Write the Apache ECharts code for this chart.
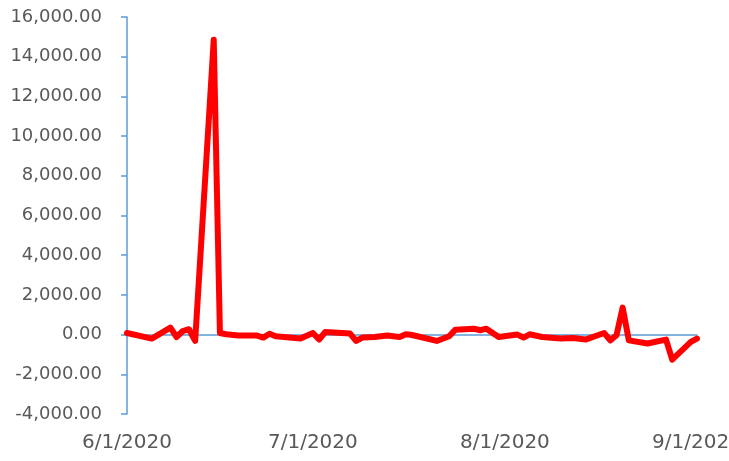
<!DOCTYPE html>
<html>
<head>
<meta charset="utf-8">
<script src="https://cdn.jsdelivr.net/npm/echarts@6/dist/echarts.min.js"></script>
<style>
html,body{margin:0;padding:0;background:#fff;}
#chart{width:729px;height:461px;}
</style>
</head>
<body>
<div id="chart"></div>
<script>
var dates = [
  '2020-06-01','2020-06-05','2020-06-08','2020-06-09','2020-06-10','2020-06-11','2020-06-12',
  '2020-06-15','2020-06-16','2020-06-17','2020-06-19','2020-06-22','2020-06-23','2020-06-24',
  '2020-06-25','2020-06-29','2020-07-01','2020-07-02','2020-07-03','2020-07-07','2020-07-08',
  '2020-07-09','2020-07-11','2020-07-13','2020-07-15','2020-07-16','2020-07-17','2020-07-21',
  '2020-07-23','2020-07-24','2020-07-27','2020-07-28','2020-07-29','2020-07-31','2020-08-03',
  '2020-08-04','2020-08-05','2020-08-07','2020-08-10','2020-08-12','2020-08-14','2020-08-17',
  '2020-08-18','2020-08-19','2020-08-20','2020-08-21','2020-08-24','2020-08-27','2020-08-28',
  '2020-08-31','2020-09-01'
];
var values = [
  80,-200,350,-120,180,270,-320,
  14850,80,15,-50,-50,-150,40,
  -85,-200,80,-250,130,50,-320,
  -150,-120,-50,-120,15,-20,-320,
  -85,250,300,220,300,-120,0,
  -150,15,-120,-200,-170,-250,80,
  -290,-35,1360,-290,-450,-250,-1260,
  -370,-200
];
var xTickLabels = ['2020-06-01','2020-07-01','2020-08-01','2020-09-01'];
var yMin = -4000, yMax = 16000, yStep = 2000;

function ts(s){ var p = s.split('-'); return Date.UTC(+p[0], +p[1]-1, +p[2]); }
var seriesData = dates.map(function(d,i){ return [ts(d), values[i]]; });
var xTicks = xTickLabels.map(ts);
var xMin = xTicks[0], xMax = xTicks[xTicks.length-1];

var labelColor = '#595959';
var axisBlue = '#5B9BD5';
var fontFam = 'DejaVu Sans';

var chart = echarts.init(document.getElementById('chart'));
chart.setOption({
  animation: false,
  grid: {left: 127, right: 32, top: 17, bottom: 47, containLabel: false, outerBoundsMode: 'none'},
  xAxis: [{
    type: 'value', min: xMin, max: xMax, position: 'bottom',
    axisLine: {show: false, onZero: false},
    axisTick: {show: false},
    splitLine: {show: false},
    axisLabel: {
      customValues: xTicks, margin: 19, color: labelColor,
      fontFamily: fontFam, fontSize: 20, hideOverlap: false,
      formatter: function(v){ var d = new Date(v); return (d.getUTCMonth()+1)+'/'+d.getUTCDate()+'/'+d.getUTCFullYear(); }
    }
  },{
    type: 'value', min: xMin, max: xMax, position: 'bottom',
    axisLine: {show: true, onZero: true, lineStyle: {color: axisBlue, width: 1.5}},
    axisTick: {show: false},
    axisLabel: {show: false},
    splitLine: {show: false}
  }],
  yAxis: {
    type: 'value', min: yMin, max: yMax, interval: yStep,
    axisLine: {show: true, lineStyle: {color: axisBlue, width: 1.5}},
    axisTick: {show: true, length: 6, lineStyle: {color: axisBlue, width: 1.5}},
    splitLine: {show: false},
    axisLabel: {
      margin: 25, color: labelColor, fontFamily: fontFam, fontSize: 18,
      formatter: function(v){ return v.toLocaleString('en-US',{minimumFractionDigits:2, maximumFractionDigits:2}); }
    }
  },
  series: [{
    type: 'line', xAxisIndex: 0, data: seriesData, symbol: 'none',
    lineStyle: {color: '#FF0000', width: 6, join: 'round', cap: 'round'},
    z: 5
  }]
});
</script>
</body>
</html>
